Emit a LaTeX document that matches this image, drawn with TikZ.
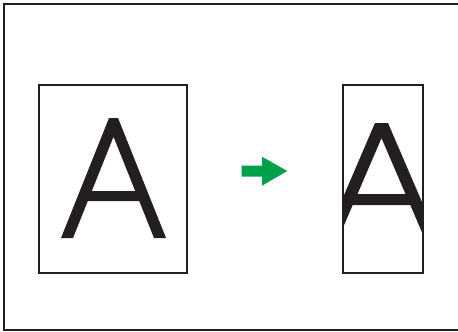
\documentclass[tikz,border=0pt]{standalone}
\definecolor{ink}{RGB}{35,31,32}
\definecolor{arrowgreen}{RGB}{0,161,75}
\begin{document}
\begin{tikzpicture}[x=1pt,y=-1pt,
  frame/.style={draw=ink,line width=2pt},
  sheet/.style={draw=ink,line width=1.6pt,fill=none,inner sep=0pt,outer sep=0pt},
  glyph/.style={fill=ink,draw=none,even odd rule}]
\useasboundingbox (0,0) rectangle (458,332);
% outer frame (right edge outside the picture)
\draw[frame] (470,4) -- (4,4) -- (4,330) -- (470,330);
% left A
\fill[glyph] (61,238)--(109,118)--(118,118)--(166,238)--(154,238)--(139.2,201)--(87.8,201)--(73,238)--cycle
  (113.5,136.75)--(135.2,191)--(91.8,191)--cycle;
\node[sheet,minimum width=148pt,minimum height=188pt] (left) at (113,179) {};
% right A (clipped by narrower sheet)
\begin{scope}
\clip (343,85) rectangle (423,273);
\fill[glyph] (316.1,260)--(375,123)--(388,123)--(446.9,260)--(433.9,260)--(410.3,205)--(352.7,205)--(329.1,260)--cycle
  (381.5,138.1)--(405.5,194)--(357.5,194)--cycle;
\end{scope}
\node[sheet,minimum width=80pt,minimum height=188pt] (right) at (383,179) {};
% green arrow
\fill[arrowgreen] (241.7,165.7)--(262,165.7)--(262,156.7)--(287.3,171)--(262,185.7)--(262,176.7)--(241.7,176.7)--cycle;
\end{tikzpicture}
\end{document}
